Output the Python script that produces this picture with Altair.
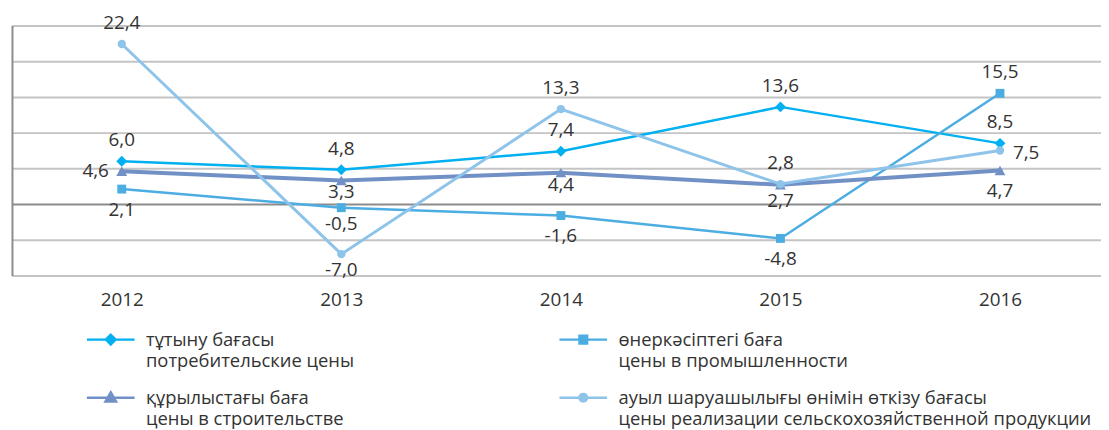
import altair as alt
import pandas as pd

years = [2012, 2013, 2014, 2015, 2016]
names_kk = ["тұтыну бағасы", "өнеркәсіптегі баға", "құрылыстағы баға",
            "ауыл шаруашылығы өнімін өткізу бағасы"]
names_ru = ["потребительские цены", "цены в промышленности", "цены в строительстве",
            "цены реализации сельскохозяйственной продукции"]
consumer = [6.0, 4.8, 7.4, 13.6, 8.5]
industry = [2.1, -0.5, -1.6, -4.8, 15.5]
construction = [4.6, 3.3, 4.4, 2.7, 4.7]
agriculture = [22.4, -7.0, 13.3, 2.8, 7.5]
values = [consumer, industry, construction, agriculture]

# styling
colors = ["#00B0F0", "#4BADE2", "#7191C6", "#8EC3EA"]
line_widths = [2.5, 2.5, 4, 3]
marker_shapes = ["diamond", "square", "triangle-up", "circle"]
marker_sizes = [120, 80, 120, 70]
FONT = "Open Sans"
TXT = "#333333"
FS = 19
LFS = 18.5

placement = {
    0: ["a", "a", "a", "a", "a"],
    1: ["b3", "b2", "b3", "b3", "a"],
    2: ["l", "b1", "b1", "b2", "b3"],
    3: ["a", "b2", "a", "a", "r"],
}

rows = []
for i, name in enumerate(names_kk):
    for j, (yr, v) in enumerate(zip(years, values[i])):
        rows.append({"series": name, "year": yr, "value": v, "place": placement[i][j]})
df = pd.DataFrame(rows)

base = alt.Chart(df)
x = alt.X("year:Q", scale=alt.Scale(domain=[2011.5, 2016.46], nice=False, zero=False),
          axis=alt.Axis(values=years, format="d", title=None, grid=False, ticks=False,
                        domain=False, labelPadding=15, labelFontSize=FS, labelColor=TXT,
                        labelFont=FONT))
y = alt.Y("value:Q", scale=alt.Scale(domain=[-10, 25], nice=False, zero=False),
          axis=alt.Axis(values=list(range(-10, 30, 5)), labels=False, ticks=False, title=None,
                        domain=True, domainColor="#8C8C8C", domainWidth=2,
                        gridColor={"condition": {"test": "datum.value === 0", "value": "#8C8C8C"},
                                   "value": "#C4C4C4"},
                        gridWidth=2))

lines = []
markers = []
for i, name in enumerate(names_kk):
    sub = base.transform_filter(alt.datum.series == name)
    lines.append(sub.mark_line(color=colors[i], strokeWidth=line_widths[i]).encode(x=x, y=y))
    markers.append(
        sub.mark_point(shape=marker_shapes[i], filled=True, size=marker_sizes[i], opacity=1,
                       color=colors[i]).encode(x=x, y=y)
    )

label_offsets = {"a": (0, -21, "center"), "b1": (0, 12, "center"), "b2": (0, 16, "center"),
                 "b3": (0, 21, "center"), "l": (-13, 0, "right"), "r": (13, 3, "left")}
labels = []
for key, (dx, dy, al) in label_offsets.items():
    labels.append(
        base.transform_filter(alt.datum.place == key)
        .transform_calculate(lbl="replace(replace(format(datum.value, '.1f'), '.', ','), '\u2212', '-')")
        .mark_text(dx=dx, dy=dy, align=al, baseline="middle", font=FONT, fontSize=FS, color=TXT)
        .encode(x=x, y=y, text="lbl:N")
    )

# legend symbols: line + marker, drawn in the unit square
legend_paths = [
    "M-1,0L1,0M0,-0.2L0.2,0L0,0.2L-0.2,0Z",
    "M-1,0L1,0M-0.16,-0.16L0.16,-0.16L0.16,0.16L-0.16,0.16Z",
    "M-1,0L1,0M0,-0.22L0.22,0.16L-0.22,0.16Z",
    "M-1,0L1,0M-0.16,0A0.16,0.16,0,1,1,0.16,0A0.16,0.16,0,1,1,-0.16,0Z",
]
label_expr = " : ".join(
    [f"datum.label == '{k}' ? ['{k}', '{r}']" for k, r in zip(names_kk, names_ru)]
) + " : datum.label"

leg = alt.Legend(orient="none", legendX=74, legendY=291, columns=2, direction="horizontal",
                 title=None, symbolSize=2304, symbolStrokeWidth=2.5, labelFont=FONT,
                 labelFontSize=LFS, labelColor=TXT, labelOffset=10, columnPadding=201,
                 rowPadding=1.5, labelLimit=700, labelExpr=label_expr, labelBaseline="middle",
                 padding=0)

legend_layer = base.mark_point(filled=False, opacity=1).encode(
    x=x, y=y,
    shape=alt.Shape("series:N", scale=alt.Scale(domain=names_kk, range=legend_paths), legend=leg),
    stroke=alt.Stroke("series:N", scale=alt.Scale(domain=names_kk, range=colors), legend=leg),
    fill=alt.Fill("series:N", scale=alt.Scale(domain=names_kk, range=colors), legend=leg),
)

chart = alt.layer(legend_layer, *lines, *markers, *labels).properties(
    width=1097, height=252, autosize="none",
    padding={"left": 4, "top": 16, "right": 0, "bottom": 154},
).configure_view(stroke=None).configure(style={"guide-label": {"lineHeight": 22}})

chart.save("out.html", embed_options={"renderer": "svg", "actions": False})
